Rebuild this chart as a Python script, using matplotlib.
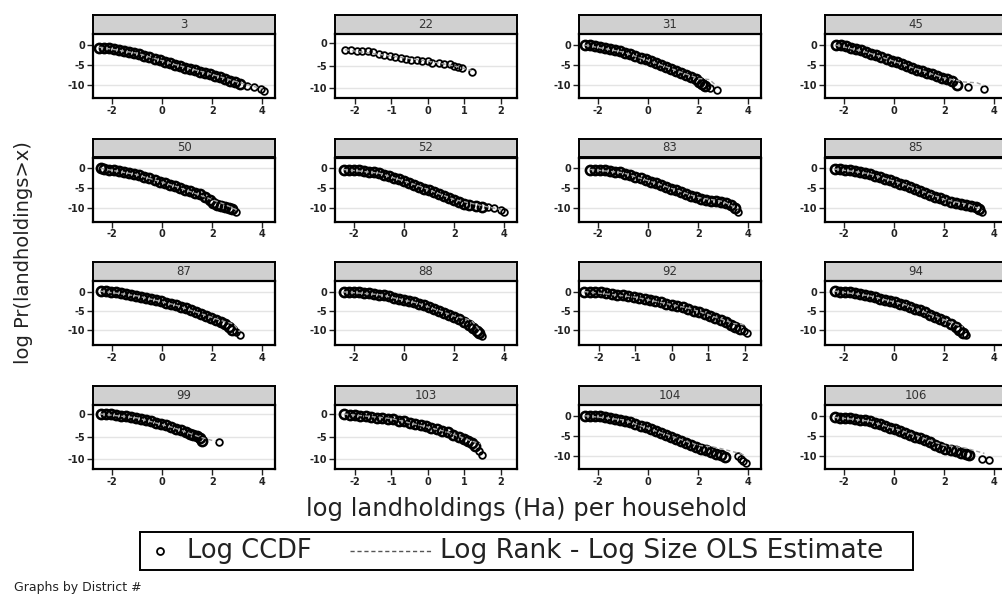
import matplotlib
matplotlib.use("Agg")
import matplotlib.pyplot as plt
from matplotlib.patches import Rectangle
from matplotlib.lines import Line2D

plt.rcParams['font.family'] = ['DejaVu Sans']
plt.rcParams['axes.unicode_minus'] = False

# ---- data (log size, log CCDF) ----
x3 = [-2.5, -2.3, -2.1, -1.9, -1.7, -1.5, -1.3, -1.1, -0.9, -0.7, -0.5, -0.3, -0.1, 0.1, 0.3, 0.5, 0.7, 0.9,
      1.1, 1.3, 1.5, 1.7, 1.9, 2.1, 2.3, 2.5, 2.7, 2.9, 3.1, 3.4, 3.67, 3.93, 4.07]
y3 = [-0.7, -0.75, -0.85, -1.0, -1.25, -1.5, -1.8, -2.05, -2.35, -2.7, -3.1, -3.5, -3.9, -4.3, -4.65, -5.0,
      -5.35, -5.7, -6.05, -6.4, -6.7, -7.0, -7.35, -7.7, -8.1, -8.5, -8.95, -9.35, -9.75, -10.2, -10.6, -11.1, -11.6]
fx3 = [-2.5, -1, 0.5, 2, 3, 4.0]
fy3 = [-0.6, -2.1, -4.9, -7.4, -9.3, -11.0]

x22 = [-2.27, -2.1, -1.95, -1.8, -1.64, -1.5, -1.35, -1.2, -1.05, -0.9, -0.75, -0.6, -0.45, -0.3, -0.15, 0.0,
       0.12, 0.3, 0.45, 0.6, 0.72, 0.83, 0.95, 1.2]
y22 = [-1.6, -1.6, -1.7, -1.75, -1.85, -2.1, -2.4, -2.7, -2.95, -3.1, -3.3, -3.5, -3.7, -3.85, -3.95, -4.1,
       -4.4, -4.5, -4.65, -4.7, -5.0, -5.3, -5.6, -6.4]
fx22 = [-2.27, -1, 0, 0.8, 1.2]
fy22 = [-1.5, -2.9, -4.0, -5.2, -6.1]

x31 = [-2.5, -2.3, -2.1, -1.9, -1.7, -1.5, -1.3, -1.1, -0.9, -0.7, -0.5, -0.3, -0.1, 0.1, 0.3, 0.5, 0.7, 0.9,
       1.1, 1.3, 1.5, 1.7, 1.9, 2.05, 2.15, 2.25, 2.47, 2.73]
y31 = [-0.1, -0.15, -0.3, -0.5, -0.75, -1.0, -1.3, -1.65, -2.0, -2.4, -2.8, -3.2, -3.6, -4.05, -4.55, -5.1,
       -5.6, -6.1, -6.65, -7.1, -7.6, -8.1, -8.6, -9.2, -9.7, -10.2, -10.8, -11.2]
fx31 = [-2.5, -1, 0.5, 2, 2.45, 2.75]
fy31 = [-0.1, -1.8, -5.0, -8.4, -8.7, -10.4]

x45 = [-2.3, -2.1, -1.9, -1.7, -1.5, -1.3, -1.1, -0.9, -0.7, -0.5, -0.3, -0.1, 0.1, 0.3, 0.5, 0.7, 0.9, 1.1,
       1.3, 1.5, 1.7, 1.9, 2.1, 2.3, 2.5, 2.96, 3.6]
y45 = [-0.05, -0.15, -0.35, -0.7, -1.05, -1.4, -1.75, -2.2, -2.65, -3.1, -3.55, -4.0, -4.4, -4.85, -5.3, -5.75,
       -6.2, -6.6, -7.0, -7.4, -7.8, -8.2, -8.6, -9.1, -10.0, -10.6, -11.0]
fx45 = [-2.3, -1, 0.5, 2, 2.8, 3.3, 3.6]
fy45 = [-0.1, -2.0, -5.2, -8.3, -9.3, -9.5, -10.2]

x50 = [-2.45, -2.3, -2.1, -1.9, -1.7, -1.5, -1.3, -1.1, -0.9, -0.7, -0.5, -0.3, -0.1, 0.1, 0.3, 0.5, 0.7, 0.9,
       1.1, 1.3, 1.5, 1.7, 1.9, 2.05, 2.2, 2.35, 2.5, 2.65, 2.8, 2.95]
y50 = [0, -0.1, -0.3, -0.5, -0.7, -0.95, -1.2, -1.45, -1.75, -2.1, -2.5, -2.9, -3.3, -3.7, -4.1, -4.5, -4.9,
       -5.3, -5.7, -6.1, -6.5, -7.1, -7.9, -8.7, -9.2, -9.4, -9.6, -9.8, -10.2, -11.0]
fx50 = [-2.45, -1, 0.5, 1.9, 2.5, 3.0]
fy50 = [0, -1.6, -4.4, -7.6, -9.0, -10.5]

x52 = [-2.4, -2.2, -2.0, -1.8, -1.6, -1.4, -1.2, -1.0, -0.8, -0.6, -0.4, -0.2, 0.0, 0.2, 0.4, 0.6, 0.8, 1.0,
       1.2, 1.4, 1.6, 1.8, 2.0, 2.2, 2.4, 2.6, 2.85, 3.1, 3.35, 3.6, 3.85, 4.0]
y52 = [-0.3, -0.35, -0.4, -0.5, -0.65, -0.8, -1.0, -1.25, -1.55, -1.9, -2.3, -2.7, -3.1, -3.55, -4.05, -4.55,
       -5.05, -5.5, -6.0, -6.5, -7.0, -7.5, -8.0, -8.4, -8.8, -9.2, -9.3, -9.6, -9.7, -10.0, -10.3, -10.8]
fx52 = [-2.4, -1, 0.5, 2, 3, 4]
fy52 = [-0.3, -1.2, -4.2, -7.8, -9.2, -10.5]

x83 = [-2.3, -2.1, -1.9, -1.7, -1.5, -1.3, -1.1, -0.9, -0.7, -0.5, -0.3, -0.1, 0.1, 0.3, 0.5, 0.7, 0.9, 1.1,
       1.3, 1.5, 1.7, 1.9, 2.1, 2.3, 2.5, 2.7, 2.9, 3.1, 3.3, 3.45, 3.6]
y83 = [-0.3, -0.35, -0.4, -0.5, -0.65, -0.8, -1.0, -1.3, -1.65, -2.05, -2.5, -2.9, -3.3, -3.75, -4.2, -4.65,
       -5.1, -5.5, -5.95, -6.4, -6.8, -7.2, -7.6, -7.85, -8.05, -8.25, -8.4, -8.7, -9.2, -10.0, -10.8]
fx83 = [-2.3, -1, 0.5, 2, 3, 3.6]
fy83 = [-0.3, -1.1, -4.1, -7.3, -8.3, -10.2]

x85 = [-2.35, -2.15, -1.95, -1.75, -1.55, -1.35, -1.15, -0.95, -0.75, -0.55, -0.35, -0.15, 0.05, 0.25, 0.45,
       0.65, 0.85, 1.05, 1.25, 1.45, 1.65, 1.85, 2.05, 2.25, 2.45, 2.65, 2.85, 3.05, 3.25, 3.4, 3.5]
y85 = [-0.2, -0.25, -0.35, -0.5, -0.7, -0.9, -1.15, -1.45, -1.8, -2.2, -2.6, -3.0, -3.35, -3.8, -4.25, -4.7,
       -5.15, -5.55, -6.05, -6.55, -7.05, -7.5, -8.0, -8.35, -8.65, -8.9, -9.15, -9.35, -9.7, -10.2, -10.8]
fx85 = [-2.35, -1, 0.5, 2, 3, 3.5]
fy85 = [-0.2, -1.3, -4.2, -7.8, -9.1, -10.4]

x87 = [-2.45, -2.25, -2.05, -1.85, -1.65, -1.45, -1.25, -1.05, -0.85, -0.65, -0.45, -0.25, -0.05, 0.15, 0.35,
       0.55, 0.75, 0.95, 1.15, 1.35, 1.55, 1.75, 1.95, 2.15, 2.35, 2.5, 2.65, 2.8, 2.95, 3.1]
y87 = [0.3, 0.25, 0.1, -0.05, -0.2, -0.4, -0.65, -0.9, -1.2, -1.5, -1.8, -2.1, -2.4, -2.75, -3.1, -3.45, -3.85,
       -4.3, -4.75, -5.2, -5.7, -6.2, -6.8, -7.3, -7.9, -8.5, -9.2, -9.9, -10.6, -11.4]
fx87 = [-2.45, -1, 0.5, 2, 2.5, 2.85, 3.1]
fy87 = [0.3, -0.95, -3.3, -6.7, -7.8, -8.4, -10.5]

x88 = [-2.4, -2.2, -2.0, -1.8, -1.6, -1.4, -1.2, -1.0, -0.8, -0.6, -0.4, -0.2, 0.0, 0.2, 0.4, 0.6, 0.8, 1.0,
       1.2, 1.4, 1.6, 1.8, 2.0, 2.2, 2.4, 2.6, 2.75, 2.9, 3.0, 3.1]
y88 = [0.1, 0.05, 0.0, -0.05, -0.15, -0.25, -0.4, -0.6, -0.85, -1.1, -1.4, -1.7, -2.0, -2.35, -2.7, -3.1, -3.5,
       -3.9, -4.4, -4.9, -5.5, -6.0, -6.6, -7.2, -7.9, -8.7, -9.5, -10.3, -10.9, -11.5]
fx88 = [-2.4, -1, 0.5, 2, 2.4, 2.7, 3.0]
fy88 = [0.1, -0.6, -2.8, -6.3, -6.9, -7.6, -10.0]

x92 = [-2.4, -2.25, -2.1, -1.95, -1.8, -1.65, -1.5, -1.35, -1.2, -1.05, -0.9, -0.75, -0.6, -0.45, -0.3, -0.15,
       0.0, 0.15, 0.3, 0.45, 0.6, 0.75, 0.9, 1.05, 1.2, 1.35, 1.5, 1.62, 1.74, 1.86, 1.97, 2.07]
y92 = [0.2, 0.15, 0.05, -0.05, -0.2, -0.4, -0.6, -0.85, -1.1, -1.35, -1.6, -1.85, -2.1, -2.4, -2.7, -3.0, -3.3,
       -3.65, -4.0, -4.45, -4.85, -5.3, -5.8, -6.3, -6.85, -7.4, -8.0, -8.6, -9.1, -9.7, -10.4, -10.9]
fx92 = [-2.4, -1, 0.5, 1.5, 1.7, 2.05]
fy92 = [0.2, -1.3, -4.3, -7.6, -8.3, -8.7]

x94 = [-2.35, -2.15, -1.95, -1.75, -1.55, -1.35, -1.15, -0.95, -0.75, -0.55, -0.35, -0.15, 0.05, 0.25, 0.45,
       0.65, 0.85, 1.05, 1.25, 1.45, 1.65, 1.85, 2.05, 2.25, 2.45, 2.6, 2.75, 2.85]
y94 = [0.3, 0.2, 0.1, -0.05, -0.2, -0.4, -0.65, -0.95, -1.3, -1.65, -2.0, -2.35, -2.65, -3.05, -3.5, -3.95,
       -4.35, -4.8, -5.35, -5.9, -6.5, -7.1, -7.7, -8.4, -9.2, -9.9, -10.7, -11.3]
fx94 = [-2.35, -1, 0.5, 2, 2.45, 2.75]
fy94 = [0.3, -0.9, -3.4, -7.3, -8.5, -9.2]

x99 = [-2.45, -2.25, -2.05, -1.85, -1.65, -1.45, -1.25, -1.05, -0.85, -0.65, -0.45, -0.25, -0.05, 0.15, 0.35,
       0.55, 0.75, 0.95, 1.1, 1.25, 1.4, 1.5, 1.6, 2.27]
y99 = [0.0, -0.05, -0.1, -0.2, -0.35, -0.5, -0.7, -0.9, -1.1, -1.3, -1.6, -1.9, -2.2, -2.5, -2.9, -3.25, -3.6,
       -4.0, -4.4, -4.6, -4.9, -5.3, -5.9, -6.3]
fx99 = [-2.45, -1, 0.5, 1.5, 2.15]
fy99 = [0, -0.85, -3.1, -5.1, -6.1]

x103 = [-2.3, -2.15, -2.0, -1.85, -1.7, -1.55, -1.4, -1.25, -1.1, -0.95, -0.8, -0.65, -0.5, -0.35, -0.2, -0.05,
        0.1, 0.25, 0.4, 0.55, 0.7, 0.85, 1.0, 1.1, 1.2, 1.3, 1.4, 1.5]
y103 = [0.0, -0.15, -0.3, -0.45, -0.55, -0.65, -0.8, -0.95, -1.05, -1.2, -1.45, -1.65, -1.9, -2.2, -2.45, -2.7,
        -3.0, -3.35, -3.7, -4.1, -4.6, -5.1, -5.6, -6.0, -6.5, -7.2, -8.1, -9.0]
fx103 = [-2.3, -1, 0.5, 1.2, 1.45]
fy103 = [0, -1.0, -3.9, -6.0, -6.6]

x104 = [-2.5, -2.3, -2.1, -1.9, -1.7, -1.5, -1.3, -1.1, -0.9, -0.7, -0.5, -0.3, -0.1, 0.1, 0.3, 0.5, 0.7, 0.9,
        1.1, 1.3, 1.5, 1.7, 1.9, 2.1, 2.3, 2.5, 2.7, 2.9, 3.05, 3.6, 3.7, 3.8, 3.9]
y104 = [0, 0, -0.05, -0.1, -0.25, -0.45, -0.7, -0.95, -1.3, -1.65, -2.05, -2.45, -2.85, -3.3, -3.8, -4.3, -4.8,
        -5.3, -5.8, -6.3, -6.8, -7.3, -7.75, -8.2, -8.65, -9.05, -9.45, -9.85, -10.2, -10.0, -10.8, -11.3, -11.8]
fx104 = [-2.5, -1, 0.5, 2, 2.6, 2.9, 3.65, 3.9]
fy104 = [0, -1.0, -4.2, -7.4, -7.8, -8.2, -9.4, -10.0]

x106 = [-2.35, -2.15, -1.95, -1.75, -1.55, -1.35, -1.15, -0.95, -0.75, -0.55, -0.35, -0.15, 0.05, 0.25, 0.45,
        0.65, 0.85, 1.05, 1.25, 1.45, 1.65, 1.85, 2.05, 2.25, 2.45, 2.65, 2.85, 2.97, 3.5, 3.77]
y106 = [-0.4, -0.45, -0.5, -0.6, -0.75, -0.95, -1.15, -1.4, -1.75, -2.1, -2.55, -2.95, -3.3, -3.75, -4.2, -4.7,
        -5.2, -5.6, -6.1, -6.65, -7.2, -7.7, -8.2, -8.55, -8.9, -9.25, -9.6, -9.9, -10.7, -11.1]
fx106 = [-2.35, -1, 0.5, 2, 2.8, 3.6]
fy106 = [-0.4, -1.3, -4.1, -7.4, -8.0, -9.4]

districts = ['3', '22', '31', '45', '50', '52', '83', '85',
             '87', '88', '92', '94', '99', '103', '104', '106']
ccdf_x = [x3, x22, x31, x45, x50, x52, x83, x85, x87, x88, x92, x94, x99, x103, x104, x106]
ccdf_y = [y3, y22, y31, y45, y50, y52, y83, y85, y87, y88, y92, y94, y99, y103, y104, y106]
fit_x = [fx3, fx22, fx31, fx45, fx50, fx52, fx83, fx85, fx87, fx88, fx92, fx94, fx99, fx103, fx104, fx106]
fit_y = [fy3, fy22, fy31, fy45, fy50, fy52, fy83, fy85, fy87, fy88, fy92, fy94, fy99, fy103, fy104, fy106]
# how many of the last points sit apart from the dense band
n_tail = [4, 24, 2, 2, 1, 4, 1, 1, 2, 1, 2, 1, 1, 2, 4, 2]

wide_ticks = [-2, 0, 2, 4]
narrow_ticks = [-2, -1, 0, 1, 2]
y_ticks = [0, -5, -10]

# ---- layout (pixels) ----
W, H = 1003, 599
fig = plt.figure(figsize=(W / 100, H / 100), dpi=100)


def px_axes(left, top, width, height):
    return fig.add_axes([left / W, 1 - (top + height) / H, width / W, height / H])


col_left = [93, 335, 579, 825]
row_top = [15, 138.5, 262, 386]
panel_w = 182
strip_h = 18.5
plot_h = 64

for i, name in enumerate(districts):
    r, c = divmod(i, 4)
    left, top = col_left[c], row_top[r]

    sax = px_axes(left, top, panel_w, strip_h)
    sax.set_facecolor('#d0d0d0')
    sax.set_xticks([])
    sax.set_yticks([])
    for sp in sax.spines.values():
        sp.set_linewidth(1.4)
    sax.text(0.5, 0.5, name, ha='center', va='center', fontsize=8.5, color='#333333',
             transform=sax.transAxes)

    ax = px_axes(left, top + strip_h + 0.5, panel_w, plot_h)
    k = len(ccdf_x[i]) - n_tail[i]
    # dense part drawn with heavier rings so it reads as a solid band
    ax.plot(ccdf_x[i][:k], ccdf_y[i][:k], 'o', mfc='none', mec='black', ms=6.6, mew=1.9, zorder=3)
    ax.plot(ccdf_x[i][k:], ccdf_y[i][k:], 'o', mfc='none', mec='black', ms=4.8, mew=1.3, zorder=3)
    ax.plot(fit_x[i], fit_y[i], color='#a0a0a0', lw=1.0, ls=(0, (3, 2)), zorder=4)

    if name in ('22', '92', '103'):
        ax.set_xticks(narrow_ticks)
        ax.set_xlim(-2.55, 2.45)
    else:
        ax.set_xticks(wide_ticks)
        ax.set_xlim(-2.75, 4.5)
    ax.set_yticks(y_ticks)
    if name in ('22', '99', '103'):
        ax.set_ylim(-12.2, 2.0)
    elif r == 2:
        ax.set_ylim(-14.0, 3.0)
    else:
        ax.set_ylim(-13.3, 2.7)

    ax.grid(axis='y', color='#e4e4e4', lw=1.0)
    ax.set_axisbelow(True)
    for sp in ax.spines.values():
        sp.set_linewidth(1.6)
    ax.tick_params(direction='out', length=4, width=1, labelsize=7, pad=1.5, colors='#222222')
    for lab in ax.get_xticklabels() + ax.get_yticklabels():
        lab.set_fontweight('bold')

# ---- figure texts and legend ----
fig.text(24 / W, 1 - 253 / H, 'log Pr(landholdings>x)', rotation=90, ha='center', va='center',
         fontsize=14, color='#222222')
fig.text(527 / W, 1 - 509 / H, 'log landholdings (Ha) per household', ha='center', va='center',
         fontsize=17.5, color='#222222')

fig.patches.append(Rectangle((140 / W, 1 - 570 / H), (913 - 140) / W, 38 / H, transform=fig.transFigure,
                             fill=False, edgecolor='black', lw=1.4))
fig.lines.append(Line2D([160 / W], [1 - 551 / H], transform=fig.transFigure, marker='o', mfc='none',
                        mec='black', ms=5, mew=1.3, ls='none'))
fig.text(187 / W, 1 - 551 / H, 'Log CCDF', ha='left', va='center', fontsize=18.5, color='#222222')
fig.lines.append(Line2D([350 / W, 432 / W], [1 - 551 / H, 1 - 551 / H], transform=fig.transFigure,
                        color='#555555', lw=1.0, ls=(0, (3, 2))))
fig.text(440 / W, 1 - 551 / H, 'Log Rank - Log Size OLS Estimate', ha='left', va='center', fontsize=19,
         color='#222222')
fig.text(14 / W, 1 - 587 / H, 'Graphs by District #', ha='left', va='center', fontsize=9,
         color='#222222')

fig.savefig('out.png', dpi=100, facecolor='white')
